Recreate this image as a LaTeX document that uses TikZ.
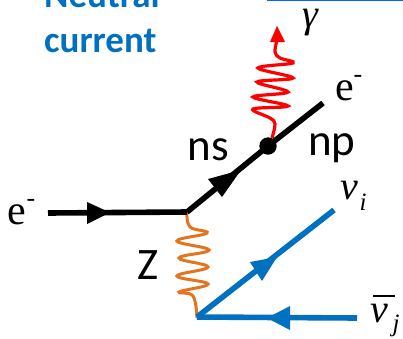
\documentclass[tikz,border=0pt]{standalone}
\usepackage{fontspec}
\setmainfont{Liberation Serif}
\newfontfamily\carl{Carlito}
\definecolor{nublue}{RGB}{0,112,192}
\definecolor{zorange}{RGB}{228,116,30}
\definecolor{phred}{RGB}{255,0,0}
\definecolor{toprule}{RGB}{0,102,255}
\tikzset{
  fermion/.style={line width=5.6pt},
  elec/.style={fermion,black},
  nu/.style={fermion,nublue},
  head/.style={fill,draw=none},
  calt/.style={inner sep=0pt,text=black,font=\carl\fontsize{45}{45}\selectfont},
  sert/.style={inner sep=0pt,text=black,font=\fontsize{42}{42}\selectfont},
  sup/.style={inner sep=0pt,text=black,font=\fontsize{26}{26}\selectfont},
  grk/.style={inner sep=0pt,text=black,font=\itshape\fontsize{40}{40}\selectfont},
  idx/.style={inner sep=0pt,text=black,font=\itshape\fontsize{25}{25}\selectfont},
  title/.style={inner sep=0pt,anchor=base west,text=nublue,font=\carl\bfseries\fontsize{37}{37}\selectfont},
}
\begin{document}
\begin{tikzpicture}[x=1pt,y=-1pt]
\useasboundingbox (0,0) rectangle (403,338);
\clip (0,0) rectangle (403,338);
\coordinate (ein) at (48,213);
\coordinate (v1) at (187,212);
\coordinate (v2) at (268,146);
\coordinate (eout) at (323,103);
\coordinate (v3) at (197,317);
\coordinate (nui) at (334,210);
\coordinate (nuj) at (357,318);
% title and top rule
\node[title] (t1) at (44,7) {Neutral};
\node[title] (t2) at (44,52) {current};
\fill[toprule] (267,0) rectangle (403,1.3);
% boson lines
\draw[zorange,line width=3pt] plot[smooth,tension=0.7] coordinates {
 (187,213) (190,227) (207,233) (177,241) (209,250) (179,258) (208,267) (177,276) (208,284) (179,292) (193,296) (197,318)};
\draw[phred,line width=3.2pt] plot[smooth,tension=0.6] coordinates {
 (272,138) (275,124) (270,118) (253,109) (288,106) (253,97) (288,92) (257,82) (293,78) (258,68) (293,63) (280,58) (275,52) (277,40)};
\fill[phred] (277,26) -- (285,42) -- (270,42) -- cycle;
% fermion lines
\draw[elec] (ein) -- (v1);
\draw[elec] (v1) -- (v2) -- (eout);
\fill[black] (v2) circle (8.7);
\fill[head] (87,202) -- (110,212.5) -- (87,224) -- cycle;
\fill[head] (208,179) -- (241,170) -- (222,197) -- cycle;
\draw[nu] (v3) -- (nui);
\draw[nu] (v3) -- (nuj);
\fill[nublue] (250,262) -- (277,257) -- (262,281) -- cycle;
\fill[nublue] (290,306) -- (267,318) -- (290,330) -- cycle;
% labels
\node[sert,anchor=base] (e1) at (17,224) {e};
\node[sup,anchor=base] (m1) at (31,206) {-};
\node[sert,anchor=base] (e2) at (345,100) {e};
\node[sup,anchor=base] (m2) at (358,82) {-};
\node[calt,anchor=base] (ns) at (208,160) {ns};
\node[calt,anchor=base] (np) at (332,155) {np};
\node[calt,anchor=base] (z) at (148,279) {Z};
\node[grk,anchor=base] (g) at (310,27) {γ};
\node[grk,anchor=base] (n1) at (349,199) {ν};
\node[idx,anchor=base] (n1i) at (363,210) {i};
\node[grk,anchor=base] (n2) at (379,322) {ν};
\draw[black,line width=1.2pt] (373,296) -- (395,296);
\node[idx,anchor=base] (n2j) at (396,331) {j};
\end{tikzpicture}
\end{document}
